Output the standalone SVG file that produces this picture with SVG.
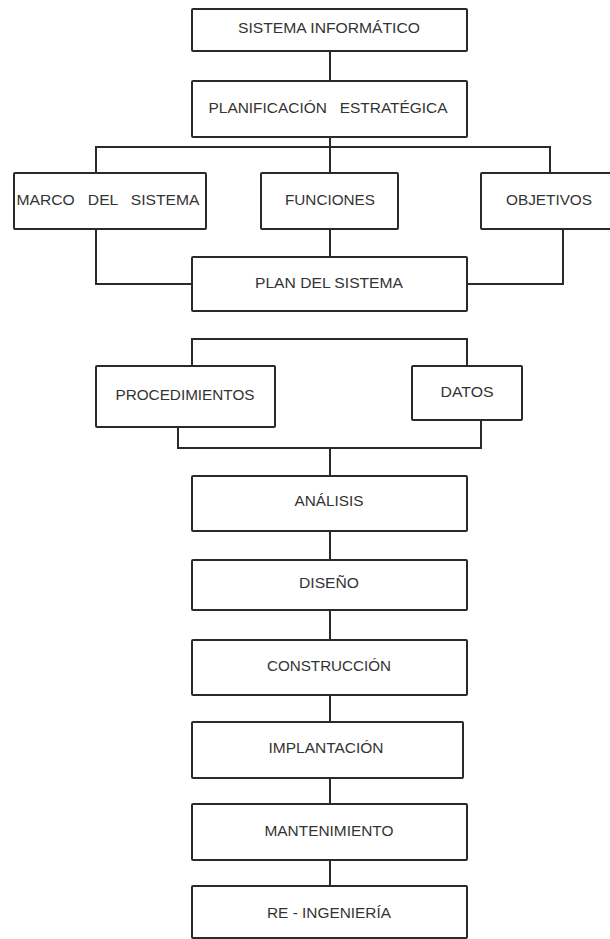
<svg xmlns="http://www.w3.org/2000/svg" width="610" height="939" viewBox="0 0 610 939">
  <style>
    .box { fill: #ffffff; stroke: #2a2a2a; stroke-width: 2; }
    .wire { fill: none; stroke: #2a2a2a; stroke-width: 2; }
    .lbl { font-family: "Liberation Sans", Arial, sans-serif; font-size: 14px; fill: #333333; text-anchor: middle; }
  </style>
  <rect width="610" height="939" fill="#ffffff"/>

  <!-- connectors -->
  <g id="connectors">
    <path class="wire" d="M330 51V81"/>
    <path class="wire" d="M330 137V147"/>
    <path class="wire" d="M96 173V147H550V173"/>
    <path class="wire" d="M330 147V173"/>
    <path class="wire" d="M96 229V284H192"/>
    <path class="wire" d="M330 229V257"/>
    <path class="wire" d="M563 229V284H467"/>
    <path class="wire" d="M192 366V339H467V366"/>
    <path class="wire" d="M178 427V448H481V420"/>
    <path class="wire" d="M330 448V476"/>
    <path class="wire" d="M330 531V560"/>
    <path class="wire" d="M330 610V640"/>
    <path class="wire" d="M330 695V722"/>
    <path class="wire" d="M330 778V804"/>
    <path class="wire" d="M330 860V886"/>
  </g>

  <g id="sistema-informatico">
    <rect class="box" x="192" y="9" width="275" height="42" rx="1"/>
    <text class="lbl" x="329" y="33" textLength="182" lengthAdjust="spacingAndGlyphs">SISTEMA INFORMÁTICO</text>
  </g>
  <g id="planificacion-estrategica">
    <rect class="box" x="192" y="81" width="275" height="56" rx="1"/>
    <text class="lbl" x="328" y="113" textLength="239" lengthAdjust="spacingAndGlyphs" xml:space="preserve">PLANIFICACIÓN   ESTRATÉGICA</text>
  </g>
  <g id="marco-del-sistema">
    <rect class="box" x="14" y="173" width="192" height="56" rx="1"/>
    <text class="lbl" x="108" y="205" textLength="183" lengthAdjust="spacingAndGlyphs" xml:space="preserve">MARCO   DEL   SISTEMA</text>
  </g>
  <g id="funciones">
    <rect class="box" x="261" y="173" width="137" height="56" rx="1"/>
    <text class="lbl" x="330" y="205" textLength="90" lengthAdjust="spacingAndGlyphs">FUNCIONES</text>
  </g>
  <g id="objetivos">
    <rect class="box" x="481" y="173" width="136" height="56" rx="1"/>
    <text class="lbl" x="549" y="205" textLength="86" lengthAdjust="spacingAndGlyphs">OBJETIVOS</text>
  </g>
  <g id="plan-del-sistema">
    <rect class="box" x="192" y="257" width="275" height="54" rx="1"/>
    <text class="lbl" x="329" y="288" textLength="148" lengthAdjust="spacingAndGlyphs">PLAN DEL SISTEMA</text>
  </g>
  <g id="procedimientos">
    <rect class="box" x="96" y="366" width="179" height="61" rx="1"/>
    <text class="lbl" x="185" y="400" textLength="139" lengthAdjust="spacingAndGlyphs">PROCEDIMIENTOS</text>
  </g>
  <g id="datos">
    <rect class="box" x="412" y="366" width="110" height="54" rx="1"/>
    <text class="lbl" x="467" y="397" textLength="53" lengthAdjust="spacingAndGlyphs">DATOS</text>
  </g>
  <g id="analisis">
    <rect class="box" x="192" y="476" width="275" height="55" rx="1"/>
    <text class="lbl" x="329" y="506" textLength="69" lengthAdjust="spacingAndGlyphs">ANÁLISIS</text>
  </g>
  <g id="diseno">
    <rect class="box" x="192" y="560" width="275" height="50" rx="1"/>
    <text class="lbl" x="329" y="588" textLength="60" lengthAdjust="spacingAndGlyphs">DISEÑO</text>
  </g>
  <g id="construccion">
    <rect class="box" x="192" y="640" width="275" height="55" rx="1"/>
    <text class="lbl" x="329" y="671" textLength="124" lengthAdjust="spacingAndGlyphs">CONSTRUCCIÓN</text>
  </g>
  <g id="implantacion">
    <rect class="box" x="192" y="722" width="271" height="56" rx="1"/>
    <text class="lbl" x="326" y="753" textLength="115" lengthAdjust="spacingAndGlyphs">IMPLANTACIÓN</text>
  </g>
  <g id="mantenimiento">
    <rect class="box" x="192" y="804" width="275" height="56" rx="1"/>
    <text class="lbl" x="329" y="836" textLength="129" lengthAdjust="spacingAndGlyphs">MANTENIMIENTO</text>
  </g>
  <g id="re-ingenieria">
    <rect class="box" x="192" y="886" width="275" height="52" rx="1"/>
    <text class="lbl" x="329" y="918" textLength="124" lengthAdjust="spacingAndGlyphs">RE - INGENIERÍA</text>
  </g>
</svg>
